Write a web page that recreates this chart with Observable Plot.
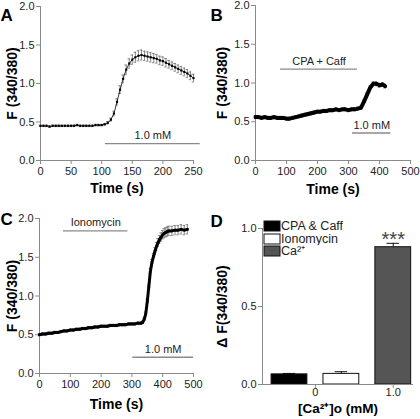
<!DOCTYPE html>
<html><head><meta charset="utf-8">
<script src="https://cdn.jsdelivr.net/npm/d3@7"></script>
<script src="https://cdn.jsdelivr.net/npm/@observablehq/plot@0.6"></script>
<style>
body{margin:0;background:#fff;}
#root{position:relative;width:420px;height:419px;overflow:hidden;font-family:"Liberation Sans",Arial,sans-serif;}
.panel{position:absolute;}
#leg{position:absolute;left:264px;top:220px;}
#leg .lg-swatch{padding-bottom:0 !important;height:12.5px !important;line-height:12.5px !important;}
#leg .lg-swatch svg{margin-right:1px !important;}
#leg .lg-swatch svg rect{stroke:#111;stroke-width:1px;}
</style></head><body><div id="root"></div>
<script>
// ---------- Panel A ----------
const aTime = [0,5,10,15,20,25,30,35,40,45,50,55,60,65,70,75,80,85,90,95,100,105,110,115,120,125,130,135,140,145,150,155,160,165,170,175,180,185,190,195,200,205,210,215,220,225,230,235,240,245,250];
const aMean = [0.45,0.45,0.45,0.44,0.45,0.45,0.45,0.45,0.45,0.45,0.45,0.45,0.46,0.45,0.45,0.45,0.45,0.45,0.46,0.46,0.46,0.47,0.49,0.53,0.61,0.76,0.92,1.06,1.18,1.26,1.31,1.34,1.36,1.37,1.36,1.35,1.34,1.33,1.32,1.30,1.29,1.27,1.25,1.23,1.21,1.19,1.17,1.15,1.13,1.10,1.07];
const aErr = [0.01,0.01,0.01,0.01,0.01,0.01,0.01,0.01,0.01,0.01,0.01,0.01,0.01,0.01,0.01,0.01,0.01,0.01,0.01,0.01,0.01,0.01,0.015,0.02,0.03,0.04,0.05,0.05,0.06,0.06,0.06,0.065,0.065,0.065,0.06,0.06,0.06,0.06,0.055,0.055,0.055,0.055,0.05,0.05,0.05,0.05,0.05,0.05,0.05,0.05,0.05];
const aTreatLabel = ["1.0 mM"];
const aTreatStart = [106];
const aTreatEnd = [261];
const aTreatLevel = [0.22];
const aXTicks = [0,50,100,150,200,250];

// ---------- Panel B ----------
const bTime = [0,10,20,30,40,50,60,70,80,90,100,110,120,130,140,150,160,170,180,190,200,210,220,230,240,250,260,270,280,290,300,310,320,330,340,350,360,370,380,390,400,410,418];
const bMean = [0.56,0.56,0.55,0.56,0.55,0.55,0.56,0.55,0.55,0.55,0.54,0.54,0.55,0.56,0.57,0.58,0.59,0.60,0.61,0.62,0.63,0.63,0.64,0.64,0.65,0.65,0.66,0.65,0.66,0.66,0.65,0.66,0.66,0.67,0.68,0.76,0.85,0.94,0.99,0.99,0.97,0.98,0.96];
const bErr = [0.02,0.02,0.02,0.02,0.02,0.02,0.02,0.02,0.02,0.02,0.02,0.02,0.02,0.02,0.02,0.02,0.02,0.02,0.02,0.02,0.02,0.02,0.02,0.02,0.02,0.02,0.02,0.02,0.02,0.02,0.02,0.02,0.02,0.02,0.02,0.02,0.025,0.025,0.025,0.025,0.025,0.025,0.025];
const bTreatLabel = ["CPA + Caff","1.0 mM"];
const bTreatStart = [81,313];
const bTreatEnd = [329,437];
const bTreatLevel = [1.18,0.355];
const bXTicks = [0,100,200,300,400,500];

// ---------- Panel C ----------
const cTime = [0,10,20,30,40,50,60,70,80,90,100,110,120,130,140,150,160,170,180,190,200,210,220,230,240,250,260,270,280,290,300,310,320,330,335,340,345,350,355,360,365,370,375,380,385,390,395,400,405,410,415,420,430,440,450,460,470,480];
const cMean = [0.50,0.51,0.51,0.52,0.52,0.53,0.53,0.54,0.55,0.55,0.56,0.56,0.57,0.57,0.58,0.58,0.59,0.59,0.60,0.60,0.61,0.61,0.61,0.62,0.62,0.62,0.63,0.63,0.63,0.64,0.64,0.64,0.65,0.65,0.66,0.70,0.77,0.93,1.12,1.32,1.43,1.51,1.58,1.64,1.69,1.73,1.76,1.79,1.81,1.82,1.83,1.84,1.84,1.85,1.85,1.86,1.85,1.86];
const cErr = [0.015,0.015,0.015,0.015,0.015,0.015,0.015,0.015,0.015,0.015,0.015,0.015,0.015,0.015,0.015,0.015,0.015,0.015,0.015,0.015,0.015,0.015,0.015,0.015,0.015,0.015,0.015,0.015,0.015,0.015,0.015,0.015,0.015,0.015,0.015,0.02,0.025,0.03,0.03,0.035,0.04,0.04,0.045,0.05,0.05,0.05,0.055,0.055,0.06,0.06,0.06,0.06,0.06,0.06,0.06,0.06,0.06,0.06];
const cTreatLabel = ["Ionomycin","1.0 mM"];
const cTreatStart = [78,303];
const cTreatEnd = [287,500];
const cTreatLevel = [1.84,0.21];
const cXTicks = [0,100,200,300,400,500];

// ---------- Panel D ----------
const barSeries = ["CPA & Caff","Ionomycin","Ca²⁺"];
const barConc = [0,0,1.0];
const barMean = [0.065,0.068,0.88];
const barErr = [0.006,0.014,0.025];
const barSig = ["","","***"];
const barColors = ["#000000","#ffffff","#555555"];
const concTicks = [0,1.0];
const concLabels = ["0","1.0"];

const yTicksTrace = [0,0.5,1.0,1.5,2.0];
const yTicksBar = [0,0.5,1.0];

// ---------- helpers ----------
const FONT = '"Liberation Sans", Arial, sans-serif';
const AX = "#8a8a8a";
const INK = "#222";
const fmt1 = d3.format(".1f");

function rows(t, m, e){ return t.map((x,i)=>({t:x, v:m[i], e:e[i]})); }
function treats(l, s, e, y){ return l.map((x,i)=>({label:x, start:s[i], end:e[i], level:y[i]})); }

function axes(xTicks, yTicks, xFmt, x0, y0, xPad){
  return [
    Plot.ruleX([x0], {stroke: AX}),
    Plot.ruleY([y0], {stroke: AX}),
    Plot.axisX({ticks: xTicks, tickFormat: xFmt, tickSize: 4, tickPadding: xPad, stroke: AX, fill: INK, label: null}),
    Plot.axisY({ticks: yTicks, tickFormat: fmt1, tickSize: 4, tickPadding: 2, stroke: AX, fill: INK, label: null})
  ];
}
function titles(letter, ylab, xlab, lp){
  return [
    Plot.text([letter], {frameAnchor:"top-left", textAnchor:"start", dx: lp.ldx, dy: lp.ldy, fontSize: 17, fontWeight:"bold", fill:"#000"}),
    Plot.text([ylab], {frameAnchor:"left", textAnchor:"middle", rotate:-90, dx: lp.ydx, fontSize: 14, fontWeight:"bold", fill:"#000"}),
    Plot.text([xlab], {frameAnchor:"bottom", textAnchor:"middle", dy: lp.xdy, fontSize: lp.xfs || 14, fontWeight:"bold", fill:"#000"})
  ];
}
function traceMarks(data, cap, lw, r){
  return [
    Plot.ruleX(data, {x:"t", y1: d=>d.v-d.e, y2: d=>d.v+d.e, stroke:"#6a6a6a", strokeWidth:0.8}),
    Plot.ruleY(data, {y: d=>d.v+d.e, x1: d=>d.t-cap, x2: d=>d.t+cap, stroke:"#6a6a6a", strokeWidth:0.8}),
    Plot.ruleY(data, {y: d=>d.v-d.e, x1: d=>d.t-cap, x2: d=>d.t+cap, stroke:"#6a6a6a", strokeWidth:0.8}),
    Plot.line(data, {x:"t", y:"v", stroke:"#000", strokeWidth: lw}),
    Plot.dot(data, {x:"t", y:"v", symbol:"square", r: r, fill:"#000"})
  ];
}
function treatMarks(data){
  return [
    Plot.ruleY(data, {y:"level", x1:"start", x2:"end", stroke:"#8a8a8a", strokeWidth:1.3}),
    Plot.text(data, {x: d=>(d.start+d.end)/2, y:"level", text:"label", dy:-8, fontSize:11, fill:INK})
  ];
}
function place(node, left, top){
  const div = document.createElement("div");
  div.className = "panel";
  div.style.left = left + "px";
  div.style.top = top + "px";
  div.appendChild(node);
  document.getElementById("root").appendChild(div);
}
const baseStyle = {fontFamily: FONT, fontSize: "11px", color: INK, background: "transparent", overflow: "visible"};

// ---------- A ----------
place(Plot.plot({
  width: 210, height: 205, marginLeft: 40, marginRight: 17, marginTop: 6, marginBottom: 45,
  style: baseStyle,
  x: {domain: [0,250]}, y: {domain: [0,2]},
  marks: [
    ...axes(aXTicks, yTicksTrace, d=>String(d), 0, 0, 3),
    ...treatMarks(treats(aTreatLabel, aTreatStart, aTreatEnd, aTreatLevel)),
    ...traceMarks(rows(aTime, aMean, aErr), 2, 0.8, 1.2),
    ...titles("A", "F (340/380)", "Time (s)", {ldx:-40, ldy:2, ydx:-28, xdy:32})
  ]
}), 0, 0);

// ---------- B ----------
place(Plot.plot({
  width: 210, height: 205, marginLeft: 45, marginRight: 10, marginTop: 5, marginBottom: 45,
  style: baseStyle,
  x: {domain: [0,500]}, y: {domain: [0,2]},
  marks: [
    ...axes(bXTicks, yTicksTrace, d=>String(d), 0, 0, 3),
    ...treatMarks(treats(bTreatLabel, bTreatStart, bTreatEnd, bTreatLevel)),
    ...traceMarks(rows(bTime, bMean, bErr), 4, 4, 1.5),
    ...titles("B", "F (340/380)", "Time (s)", {ldx:-45, ldy:3, ydx:-33, xdy:33})
  ]
}), 210, 0);

// ---------- C ----------
place(Plot.plot({
  width: 210, height: 214, marginLeft: 39, marginRight: 17, marginTop: 13, marginBottom: 46,
  style: baseStyle,
  x: {domain: [0,500]}, y: {domain: [0,2]},
  marks: [
    ...axes(cXTicks, yTicksTrace, d=>String(d), 0, 0, 3),
    ...treatMarks(treats(cTreatLabel, cTreatStart, cTreatEnd, cTreatLevel)),
    ...traceMarks(rows(cTime, cMean, cErr), 4, 3, 1.4),
    ...titles("C", "F (340/380)", "Time (s)", {ldx:-39, ldy:-6, ydx:-27, xdy:35})
  ]
}), 0, 205);

// ---------- D ----------
const groupSize = {};
barConc.forEach(c => groupSize[c] = (groupSize[c]||0) + 1);
const seen = {};
const bars = barSeries.map((s,i) => {
  const c = barConc[i];
  const k = seen[c] = (seen[c] === undefined ? 0 : seen[c] + 1);
  const pos = c + (k - (groupSize[c]-1)/2) * (2/3);
  return {series:s, pos, v:barMean[i], e:barErr[i], sig:barSig[i], fill:barColors[i]};
});
const HW = 0.23, CAP = 0.08;
place(Plot.plot({
  width: 210, height: 214, marginLeft: 52, marginRight: 7, marginTop: 23, marginBottom: 35,
  style: baseStyle,
  x: {domain: [-0.68, 1.26]}, y: {domain: [0,1]},
  marks: [
    Plot.rectY(bars, {x1: d=>d.pos-HW, x2: d=>d.pos+HW, y1: 0, y2: "v", fill: d=>d.fill, stroke:"#111", strokeWidth:1}),
    Plot.ruleX(bars, {x:"pos", y1:"v", y2: d=>d.v+d.e, stroke:"#111"}),
    Plot.ruleY(bars, {y: d=>d.v+d.e, x1: d=>d.pos-CAP, x2: d=>d.pos+CAP, stroke:"#111"}),
    Plot.text(bars, {x:"pos", y: d=>d.v+d.e, text:"sig", dy: 3, lineAnchor:"bottom", fontSize: 20, fill:"#444"}),
    ...axes(concTicks, yTicksBar, (d,i)=>concLabels[i], -0.68, 0, 0),
    ...titles("D", "Δ F(340/380)", "[Ca²⁺]o (mM)", {ldx:-52, ldy:-14, ydx:-40, xdy:28, xfs:13.5})
  ]
}), 210, 205);

// legend
const leg = Plot.legend({
  color: {type:"ordinal", domain: barSeries, range: barColors},
  legend: "swatches", columns: 1, swatchWidth: 16, swatchHeight: 10, className: "lg",
  style: {fontFamily: FONT, fontSize: "12.5px", color: INK, background: "transparent"}
});
const lw = document.createElement("div");
lw.id = "leg";
lw.appendChild(leg);
document.getElementById("root").appendChild(lw);
</script>
</body></html>
